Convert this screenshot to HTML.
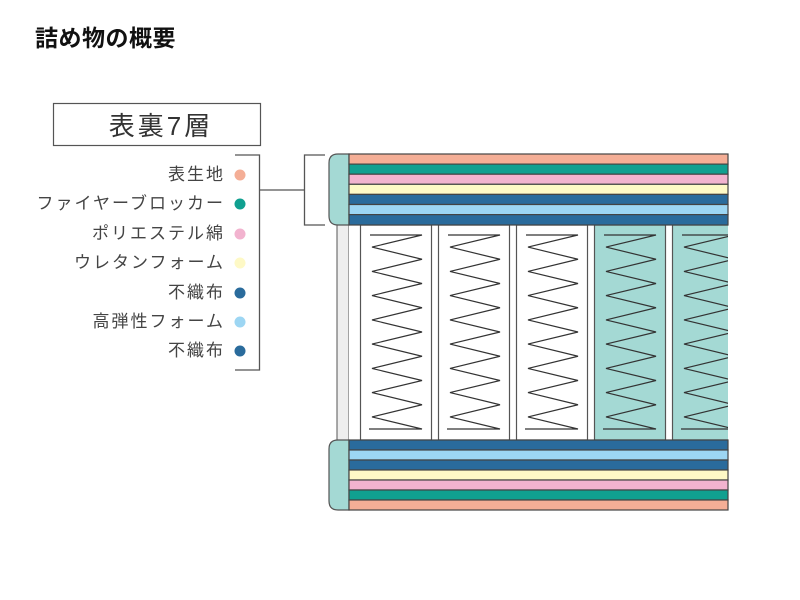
<!DOCTYPE html>
<html><head><meta charset="utf-8"><style>
body{margin:0;background:#fff;}
svg{display:block;}
text{font-family:"Liberation Sans","Noto Sans CJK JP",sans-serif;}
</style></head><body>
<svg width="800" height="600" viewBox="0 0 800 600" xmlns="http://www.w3.org/2000/svg">
<defs>
<clipPath id="c"><rect x="349" y="225" width="379" height="215"/></clipPath>
<path id="sp" d="M370 235 L422 235 L372 247.1 L422 259.25 L372 271.4 L422 283.5 L372 295.6 L422 307.75 L372 319.9 L422 332 L372 344.1 L422 356.25 L372 368.4 L422 380.5 L372 392.6 L422 404.75 L372 416.9 L422 429 L369 429" fill="none" stroke="#333" stroke-width="1.2"/>
</defs>
<text x="35" y="46" font-size="23" font-weight="bold" letter-spacing="0.5" fill="#111">詰め物の概要</text>
<rect x="53.5" y="103.5" width="207" height="42" fill="#fff" stroke="#555" stroke-width="1.2"/>
<text x="161" y="135" font-size="26" letter-spacing="3" text-anchor="middle" fill="#333">表裏7層</text>
<g font-size="17" fill="#444" text-anchor="end" letter-spacing="2">
<text x="225" y="180">表生地</text>
<text x="225" y="209">ファイヤーブロッカー</text>
<text x="225" y="239">ポリエステル綿</text>
<text x="225" y="268">ウレタンフォーム</text>
<text x="225" y="298">不織布</text>
<text x="225" y="327">高弾性フォーム</text>
<text x="225" y="356">不織布</text>
</g>
<circle cx="240" cy="175" r="5.5" fill="#f4ae96"/>
<circle cx="240" cy="204" r="5.5" fill="#10a090"/>
<circle cx="240" cy="234" r="5.5" fill="#f2b3cf"/>
<circle cx="240" cy="263" r="5.5" fill="#fef9c6"/>
<circle cx="240" cy="293" r="5.5" fill="#2a6b9c"/>
<circle cx="240" cy="322" r="5.5" fill="#9dd6f3"/>
<circle cx="240" cy="351" r="5.5" fill="#2a6b9c"/>
<path d="M235 155 H259.5 V370 H235 M259.5 190 H304.5 M325 155 H304.5 V225 H325" fill="none" stroke="#555" stroke-width="1.3"/>
<rect x="337" y="225" width="12" height="215" fill="#eee" stroke="#555" stroke-width="1"/>
<rect x="349" y="225" width="379" height="215" fill="#fff"/>
<g clip-path="url(#c)" stroke="#555" stroke-width="1.2">
<rect x="360.5" y="225" width="71" height="215" fill="#fff"/>
<rect x="438.5" y="225" width="71" height="215" fill="#fff"/>
<rect x="516.5" y="225" width="71" height="215" fill="#fff"/>
<rect x="594.5" y="225" width="71" height="215" fill="#a4d9d4"/>
<rect x="672.5" y="225" width="71" height="215" fill="#a4d9d4"/>
<use href="#sp"/>
<use href="#sp" x="78"/>
<use href="#sp" x="156"/>
<use href="#sp" x="234"/>
<use href="#sp" x="312"/>
</g>
<path d="M349 154 H338 Q329 154 329 163 V216 Q329 225 338 225 H349 Z" fill="#a4d9d4" stroke="#555" stroke-width="1.2"/>
<g stroke="#444" stroke-width="1.2">
<rect x="349" y="154" width="379" height="10.1" fill="#f4ae96"/>
<rect x="349" y="164.1" width="379" height="10.1" fill="#10a090"/>
<rect x="349" y="174.2" width="379" height="10.1" fill="#f2b3cf"/>
<rect x="349" y="184.3" width="379" height="10.1" fill="#fef9c6"/>
<rect x="349" y="194.4" width="379" height="10.1" fill="#2a6b9c"/>
<rect x="349" y="204.5" width="379" height="10.1" fill="#9dd6f3"/>
<rect x="349" y="214.6" width="379" height="10.4" fill="#2a6b9c"/>
</g>
<path d="M349 440 H338 Q329 440 329 449 V501 Q329 510 338 510 H349 Z" fill="#a4d9d4" stroke="#555" stroke-width="1.2"/>
<g stroke="#444" stroke-width="1.2">
<rect x="349" y="440" width="379" height="10" fill="#2a6b9c"/>
<rect x="349" y="450" width="379" height="10" fill="#9dd6f3"/>
<rect x="349" y="460" width="379" height="10" fill="#2a6b9c"/>
<rect x="349" y="470" width="379" height="10" fill="#fef9c6"/>
<rect x="349" y="480" width="379" height="10" fill="#f2b3cf"/>
<rect x="349" y="490" width="379" height="10" fill="#10a090"/>
<rect x="349" y="500" width="379" height="10" fill="#f4ae96"/>
</g>
</svg>
</body></html>
